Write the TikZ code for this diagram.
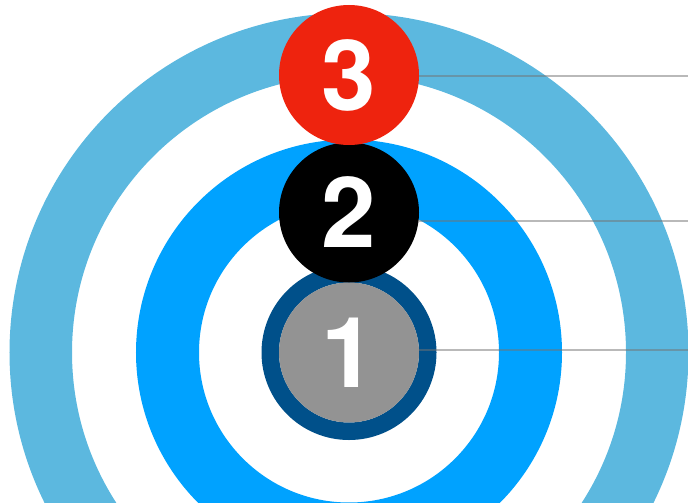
\documentclass[tikz,border=0pt]{standalone}
\usepackage{fontspec}
\setmainfont{TeX Gyre Heros}
\usetikzlibrary{positioning,calc}
\definecolor{outerblue}{HTML}{5CB8DF}
\definecolor{midblue}{HTML}{00A2FF}
\definecolor{darkblue}{HTML}{00508A}
\definecolor{levelgray}{HTML}{939393}
\definecolor{levelred}{HTML}{EE230E}

\begin{document}
\begin{tikzpicture}[
    x=1pt, y=-1pt,
    badge/.style={circle, minimum size=140pt, inner sep=0pt, outer sep=0pt,
                  text=white, font=\fontsize{98}{98}\selectfont\bfseries},
    leader/.style={draw=black!55, opacity=0.5, line width=2.2pt}
  ]
    \useasboundingbox (0,0) rectangle (688,503);
    \clip (0,0) rectangle (688,503);
    \coordinate (c) at (349,352.5);
    \coordinate (edge) at (688,0);

    % Rings
    \draw[outerblue, line width=62.5pt] (c) circle[radius=308.25pt];
    \draw[midblue, line width=63pt] (c) circle[radius=181.5pt];
    \draw[darkblue, line width=17.5pt] (c) circle[radius=78.75pt];

    % Levels
    \node[badge, fill=levelgray] (one) at (c) {1};
    \node[badge, fill=black, above=0pt of one] (two) {2};
    \node[badge, fill=levelred, above=-2.5pt of two] (three) {3};

    % Leaders
    \draw[leader] (one.2) -- (one.2 -| edge);
    \draw[leader] (two.-7) -- (two.-7 -| edge);
    \draw[leader] (three.-1) -- (three.-1 -| edge);
  \end{tikzpicture}
\end{document}
